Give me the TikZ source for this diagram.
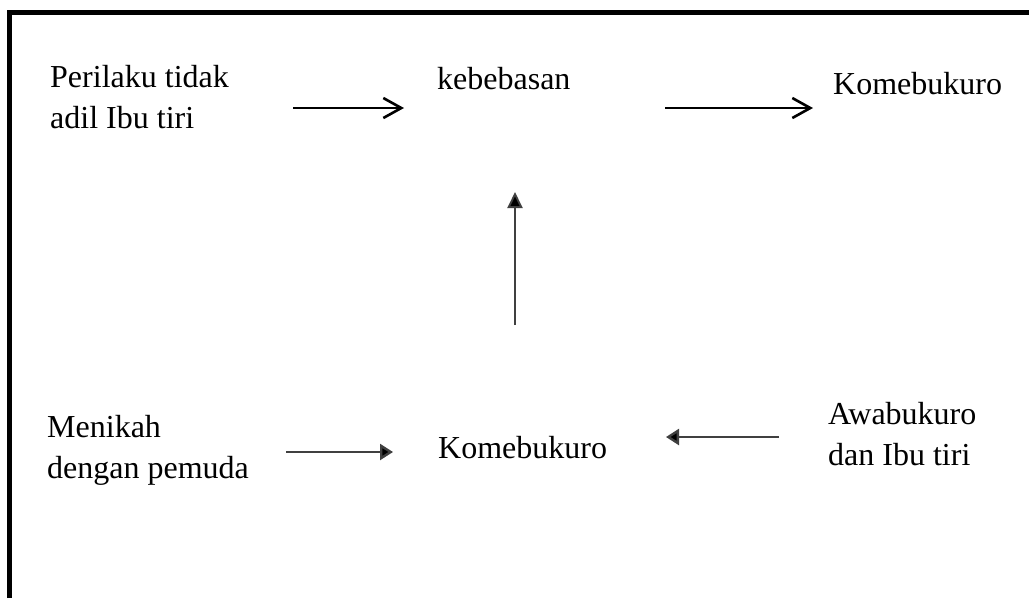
\documentclass[tikz,border=0pt]{standalone}
\usepackage{fontspec}
\setmainfont{Liberation Serif}
\usetikzlibrary{arrows.meta}

\begin{document}
\begin{tikzpicture}[x = 1pt, y = -1pt,
		lbl/.style = {inner sep = 0, anchor = base west, align = left,
			font = \fontsize{32}{41}\selectfont},
		barb/.style = {line width = 2.6, -{Straight Barb[length = 18pt, width = 20pt, line width = 2.6pt]}},
		tri/.style = {line width = 2.4, draw = black!75, -{Triangle[length = 13pt, width = 16pt, fill = black]}}]
		\useasboundingbox (0,0) rectangle (1029,598);
		\draw[line width = 5.5] (9.7,598) -- (9.7,12.5) -- (1029,12.5);
		% top row
		\node[lbl] (perilaku) at (50,128) {Perilaku tidak\\adil Ibu tiri};
		\node[lbl] (bebas) at (437,89) {kebebasan};
		\node[lbl] (kome1) at (833,94) {Komebukuro};
		% bottom row
		\node[lbl] (nikah) at (47,478) {Menikah\\dengan pemuda};
		\node[lbl] (kome2) at (438,458) {Komebukuro};
		\node[lbl] (awa) at (828,465) {Awabukuro\\dan Ibu tiri};
		% arrow ends
		\coordinate (p1) at (293,108);
		\coordinate (p2) at (404,108);
		\coordinate (b1) at (665,108);
		\coordinate (b2) at (813,108);
		\coordinate (k1) at (515,325);
		\coordinate (k2) at (515,192);
		\coordinate (n1) at (286,452);
		\coordinate (n2) at (393,452);
		\coordinate (a1) at (779,437);
		\coordinate (a2) at (666,437);
		\draw[barb] (p1) -- (p2);
		\draw[barb] (b1) -- (b2);
		\draw[tri, line width = 1.9, -{Triangle[length = 16pt, width = 15pt, fill = black]}] (k1) -- (k2);
		\draw[tri] (n1) -- (n2);
		\draw[tri] (a1) -- (a2);
\end{tikzpicture}
\end{document}
